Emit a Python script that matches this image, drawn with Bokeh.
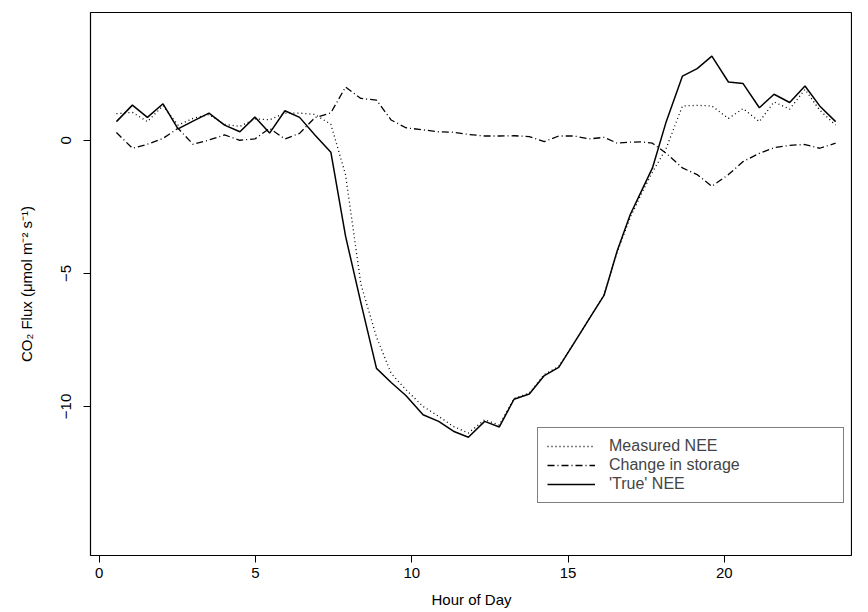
from bokeh.plotting import figure
from bokeh.models import Range1d, Legend, LegendItem, FixedTicker
from bokeh.embed import file_html
from bokeh.resources import INLINE

hour = [0.55,1.06,1.54,2.04,2.52,3.0,3.51,4.01,4.50,4.98,5.45,5.94,6.41,6.9,7.41,7.88,8.37,8.87,9.34,9.81,
        10.36,10.86,11.33,11.81,12.33,12.80,13.27,13.76,14.24,14.70,15.2,15.68,16.15,16.57,16.99,17.35,17.70,
        18.14,18.66,19.13,19.60,20.13,20.60,21.12,21.59,22.09,22.58,23.05,23.56]
true_nee = [0.70,1.32,0.86,1.37,0.43,0.72,1.02,0.57,0.32,0.87,0.27,1.11,0.86,0.2,-0.45,-3.6,-6.1,-8.57,-9.1,-9.59,
            -10.31,-10.56,-10.93,-11.16,-10.56,-10.77,-9.73,-9.53,-8.84,-8.53,-7.6,-6.7,-5.83,-4.16,-2.79,-1.9,-1.04,
            0.70,2.41,2.69,3.16,2.19,2.13,1.22,1.73,1.42,2.04,1.29,0.70]
measured = [1.0,1.05,0.70,1.3,0.57,0.82,0.97,0.60,0.52,0.80,0.77,1.02,1.02,0.97,0.60,-1.29,-5.4,-7.39,-8.76,-9.37,
            -10.0,-10.37,-10.75,-11.0,-10.5,-10.7,-9.7,-9.5,-8.8,-8.5,-7.6,-6.7,-5.8,-4.2,-2.9,-2.0,-1.2,
            -0.3,1.29,1.31,1.29,0.82,1.19,0.70,1.44,1.17,1.91,1.13,0.57]
storage = [0.29,-0.30,-0.15,0.07,0.45,-0.15,0.01,0.2,0.0,0.05,0.45,0.05,0.26,0.85,1.03,2.0,1.57,1.51,0.76,0.47,
           0.39,0.32,0.30,0.22,0.16,0.16,0.17,0.14,-0.05,0.16,0.16,0.05,0.11,-0.11,-0.07,-0.06,-0.11,
           -0.49,-1.04,-1.29,-1.73,-1.29,-0.80,-0.49,-0.28,-0.19,-0.16,-0.30,-0.11]
x_ticks = [0, 5, 10, 15, 20]
y_ticks = [-10, -5, 0]

FONT = "Liberation Sans"
p = figure(width=852, height=610, output_backend="svg", toolbar_location=None,
           x_range=Range1d(-0.28, 24.1), y_range=Range1d(-15.6, 4.8),
           min_border_left=90, min_border_right=0, min_border_top=12, min_border_bottom=30)
p.xgrid.visible = False
p.ygrid.visible = False
p.outline_line_color = "black"
p.outline_line_width = 1.2
p.background_fill_color = "white"
p.border_fill_color = "white"

l1 = p.line(hour, measured, line_color="black", line_width=1.3, line_dash="1 3")
l2 = p.line(hour, storage, line_color="black", line_width=1.3, line_dash="7 3 1 3")
l3 = p.line(hour, true_nee, line_color="black", line_width=1.5)

for ax in (p.xaxis[0], p.yaxis[0]):
    ax.axis_line_color = None
    ax.major_tick_out = 7
    ax.major_tick_in = 0
    ax.minor_tick_line_color = None
    ax.major_tick_line_color = "black"
    ax.major_label_text_font = FONT
    ax.major_label_text_font_size = "15px"
    ax.major_label_text_color = "black"
    ax.axis_label_text_font = FONT
    ax.axis_label_text_font_size = "15px"
    ax.axis_label_text_font_style = "normal"
    ax.axis_label_text_color = "black"
p.xaxis.ticker = FixedTicker(ticks=x_ticks)
p.yaxis.ticker = FixedTicker(ticks=y_ticks)
p.yaxis.major_label_orientation = "vertical"
p.yaxis.major_label_standoff = 12
p.xaxis.axis_label = "Hour of Day"
p.yaxis.axis_label = "CO\u2082 Flux (\u03bcmol m\u207b\u00b2 s\u207b\u00b9)"
p.xaxis.axis_label_standoff = 10
p.yaxis.axis_label_standoff = 24

legend = Legend(items=[LegendItem(label="Measured NEE", renderers=[l1]),
                       LegendItem(label="Change in storage", renderers=[l2]),
                       LegendItem(label="'True' NEE", renderers=[l3])],
                location=(447, 52))
legend.label_text_font = FONT
legend.label_text_font_size = "16px"
legend.label_width = 225
legend.label_height = 16
legend.glyph_width = 48
legend.glyph_height = 16
legend.spacing = 1
legend.padding = 9
legend.label_standoff = 14
legend.border_line_color = "black"
legend.border_line_width = 1.2
legend.margin = 0
p.add_layout(legend, "center")

open("out.html", "w").write(file_html(p, INLINE))
